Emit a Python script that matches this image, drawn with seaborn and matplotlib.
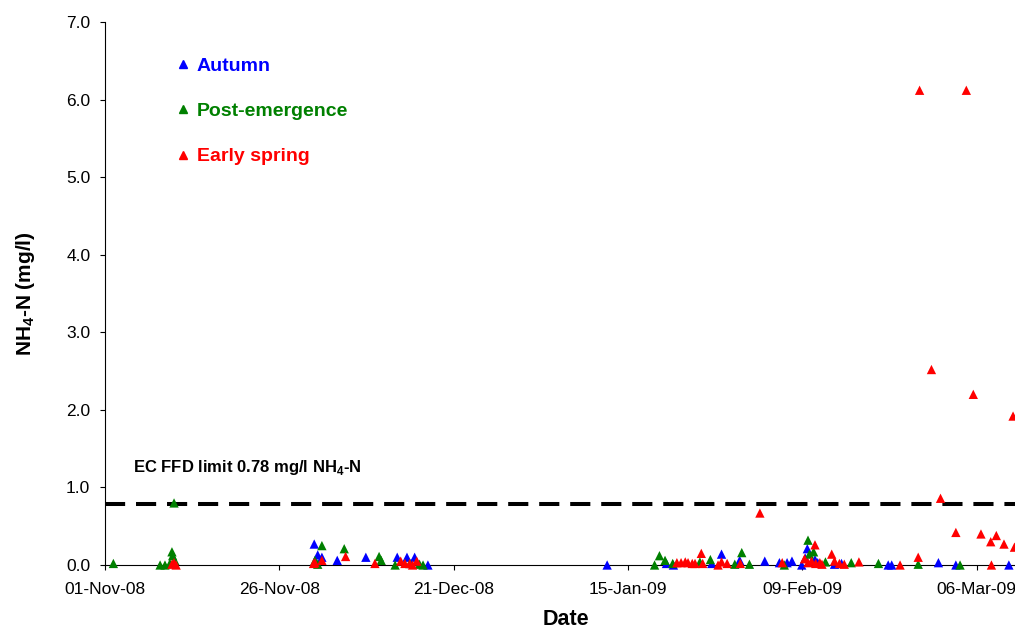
import matplotlib
matplotlib.use("Agg")
import matplotlib.pyplot as plt
import matplotlib.dates as mdates
import matplotlib.transforms as mtransforms
from matplotlib.lines import Line2D
import pandas as pd
import seaborn as sns

# Sampling dates as days after 01-Nov-08, NH4-N in mg/l
start = pd.Timestamp("2008-11-01")

autumn_day = [30.0, 30.5, 31.1, 33.3, 37.4, 41.9, 43.3, 43.9, 44.4, 46.3,
              72.0, 80.5, 81.5, 87.0, 88.4, 91.0, 94.6, 96.7, 97.8, 98.5,
              99.9, 100.4, 100.7, 101.8, 102.2, 104.6, 105.6,
              112.3, 112.8, 119.5, 122.0, 129.6]
autumn_nh4 = [0.27, 0.13, 0.10, 0.06, 0.10, 0.10, 0.10, 0.02, 0.10, 0.00,
              0.00, 0.02, 0.00, 0.02, 0.14, 0.06, 0.05, 0.03, 0.03, 0.05,
              0.00, 0.09, 0.21, 0.07, 0.03, 0.01, 0.02,
              0.00, 0.00, 0.03, 0.00, 0.00]

post_day = [1.2, 7.9, 8.6, 9.3, 9.6, 9.7, 9.9, 10.0,
            30.1, 30.5, 31.1, 34.3, 39.3, 39.6, 41.6, 43.7, 45.1, 45.6,
            78.8, 79.5, 80.3, 81.4, 85.3, 86.8, 90.3, 91.3, 92.4,
            97.4, 100.8, 101.0, 101.6, 103.3, 107.0, 110.9, 116.6, 122.6]
post_nh4 = [0.02, 0.00, 0.00, 0.02, 0.17, 0.12, 0.80, 0.06,
            0.06, 0.01, 0.25, 0.21, 0.11, 0.06, 0.00, 0.02, 0.01, 0.00,
            0.00, 0.12, 0.06, 0.02, 0.04, 0.07, 0.01, 0.16, 0.01,
            0.00, 0.32, 0.14, 0.17, 0.04, 0.03, 0.02, 0.01, 0.00]

spring_day = [9.6, 9.9, 10.2,
              29.9, 30.1, 31.1, 34.5, 38.7, 42.4, 43.0, 43.7, 44.1, 44.7,
              82.0, 82.6, 83.2, 83.6, 84.2, 84.6, 85.5, 85.7, 87.9, 88.4,
              89.2, 91.1, 93.9, 97.1, 100.3, 100.8, 101.3, 101.8, 101.9,
              102.5, 102.8, 104.2, 104.6, 105.3, 106.0, 108.1,
              114.0, 116.6, 116.8, 118.5, 119.8, 122.0, 123.5, 124.5,
              125.6, 127.0, 127.1, 127.8, 128.9, 130.2, 130.4]
spring_nh4 = [0.01, 0.03, 0.00,
              0.02, 0.03, 0.06, 0.11, 0.02, 0.05, 0.02, 0.02, 0.00, 0.05,
              0.03, 0.03, 0.04, 0.03, 0.02, 0.02, 0.15, 0.02, 0.00, 0.04,
              0.02, 0.02, 0.67, 0.03, 0.08, 0.03, 0.05, 0.26, 0.02,
              0.03, 0.01, 0.14, 0.05, 0.02, 0.01, 0.04,
              0.00, 0.10, 6.12, 2.52, 0.86, 0.42, 6.12, 2.20,
              0.40, 0.30, 0.00, 0.38, 0.27, 1.92, 0.23]

periods = ["Autumn", "Post-emergence", "Early spring"]
colors = ["#0000FF", "#008000", "#FF0000"]
limit = 0.78
y_ticks = [0, 1, 2, 3, 4, 5, 6, 7]
x_ticks = ["2008-11-01", "2008-11-26", "2008-12-21", "2009-01-15", "2009-02-09", "2009-03-06"]


def frame(days, vals, name):
    return pd.DataFrame({"date": start + pd.to_timedelta(days, unit="D"),
                         "nh4": vals, "period": name})


df = pd.concat([frame(autumn_day, autumn_nh4, periods[0]),
                frame(post_day, post_nh4, periods[1]),
                frame(spring_day, spring_nh4, periods[2])], ignore_index=True)

sns.set_style("ticks")
plt.rcParams["font.family"] = ["Liberation Sans", "DejaVu Sans"]
plt.rcParams["mathtext.fontset"] = "custom"
plt.rcParams["mathtext.rm"] = "Liberation Sans"
plt.rcParams["mathtext.bf"] = "Liberation Sans:bold"
plt.rcParams["text.color"] = "black"
plt.rcParams["axes.labelcolor"] = "black"
plt.rcParams["xtick.color"] = "black"
plt.rcParams["ytick.color"] = "black"

fig = plt.figure(figsize=(10.15, 6.3), dpi=100)
ax = fig.add_axes([105 / 1015, 65 / 630, 922 / 1015, 543 / 630])

ax.axhline(limit, color="black", lw=2.9, ls=(0, (5, 2.7)), dash_capstyle="butt", zorder=2)

sns.scatterplot(data=df, x="date", y="nh4", hue="period", hue_order=periods,
                palette=colors, marker="^", s=45, linewidth=0, legend=False,
                ax=ax, clip_on=False, zorder=3)

ax.set_xlim(start, start + pd.Timedelta(days=132.2))
ax.set_ylim(0, 7)
ax.set_yticks(y_ticks)
ax.yaxis.set_major_formatter(plt.FormatStrFormatter("%.1f"))
ax.set_xticks(pd.to_datetime(x_ticks))
ax.xaxis.set_major_formatter(mdates.DateFormatter("%d-%b-%y"))

sns.despine(ax=ax)
for s in ["left", "bottom"]:
    ax.spines[s].set_color("black")
    ax.spines[s].set_linewidth(0.8)
ax.tick_params(direction="out", length=3.6, width=0.8, colors="black", labelsize=12.5)
ax.tick_params(axis="x", pad=9)
ax.tick_params(axis="y", pad=7)

ax.set_xlabel("Date", fontsize=15.5, fontweight="bold", color="black")
ax.set_ylabel(r"NH$_\mathbf{4}$-N (mg/l)", fontsize=15, fontweight="bold", color="black")
ax.xaxis.set_label_coords(0.5, -0.081)
ax.yaxis.set_label_coords(-0.0738, 0.5)

trans = mtransforms.blended_transform_factory(ax.transAxes, ax.transData)
ax.text(0.0304, 1.26, r"EC FFD limit 0.78 mg/l NH$_\mathbf{4}$-N", transform=trans,
        fontsize=12, fontweight="bold", va="center", ha="left", color="black")

handles = [Line2D([], [], ls="none", marker="^", ms=6, color=c, mec=c) for c in colors]
ax.legend(handles, periods, loc="upper left", bbox_to_anchor=(0.0793, 0.9355),
          frameon=False, prop={"weight": "bold", "size": 14}, labelcolor=colors,
          handlelength=0.5, handletextpad=0.45, labelspacing=1.43,
          borderpad=0, borderaxespad=0)

plt.savefig("out.png", dpi=100)
plt.close()
